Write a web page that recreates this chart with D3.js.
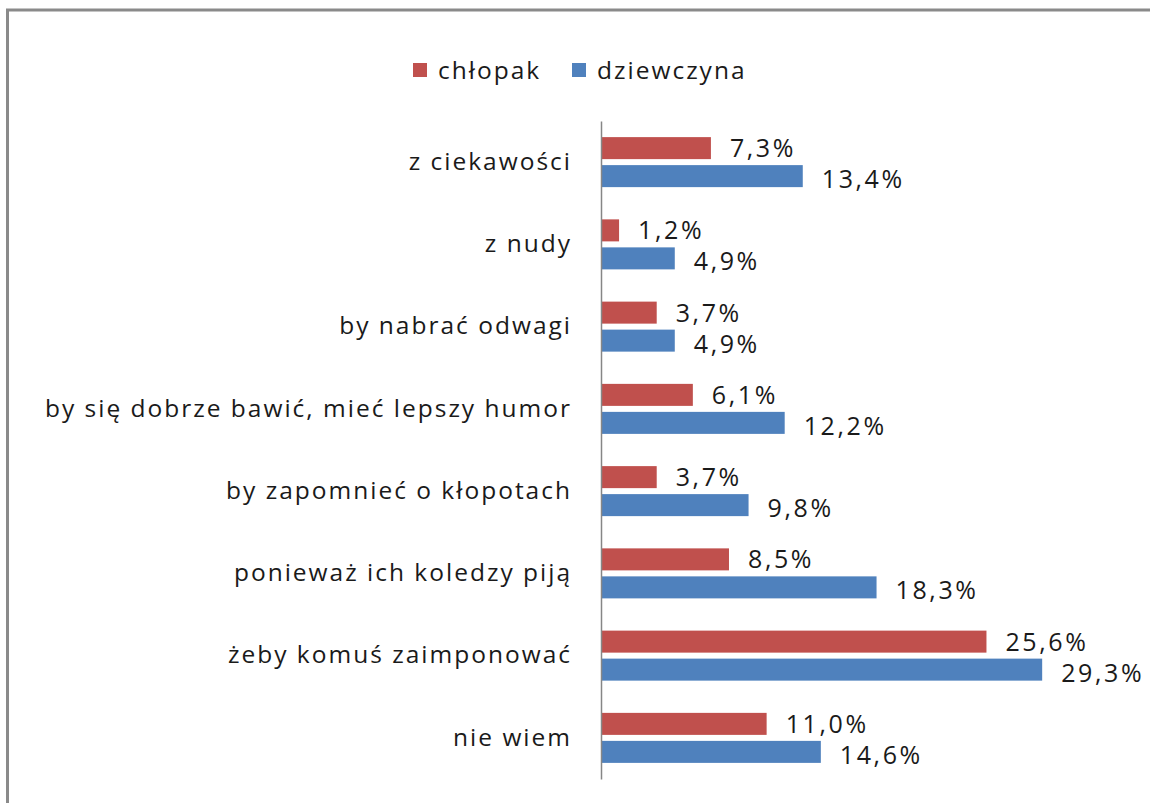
<!DOCTYPE html>
<html>
<head>
    <meta charset="utf-8">
    <script src="https://d3js.org/d3.v7.min.js"></script>
    <style>
      body { margin: 0; background: #fff; }
      text { font-family: "Open Sans", Lato, sans-serif; fill: #1a1a1a; letter-spacing: 2px; }
      text.val { letter-spacing: 2.6px; }
    </style>
</head>
<body>
    <script type="text/javascript">
    "use strict";

    // Data.
    var categories = ["z ciekawości", "z nudy", "by nabrać odwagi",
      "by się dobrze bawić, mieć lepszy humor", "by zapomnieć o kłopotach",
      "ponieważ ich koledzy piją", "żeby komuś zaimponować", "nie wiem"];
    var seriesNames = ["chłopak", "dziewczyna"];
    var chlopak = [7.3, 1.2, 3.7, 6.1, 3.7, 8.5, 25.6, 11.0];
    var dziewczyna = [13.4, 4.9, 4.9, 12.2, 9.8, 18.3, 29.3, 14.6];
    var colors = ["#C0504D", "#4F81BD"];

    var width = 1150, height = 803;

    var svg = d3.select("body").append("svg")
        .attr("width", width)
        .attr("height", height);

    // Chart border (runs off the right and bottom edges)
    svg.append("rect")
        .attr("x", 7.5).attr("y", 10)
        .attr("width", 1200).attr("height", 900)
        .attr("fill", "none")
        .attr("stroke", "#8a8a8a")
        .attr("stroke-width", 3);

    var rows = categories.map(function(c, i) {
      return { cat: c, values: [chlopak[i], dziewczyna[i]] };
    });

    var x = d3.scaleLinear().domain([0, 35]).range([601, 1128]);
    var y0 = d3.scaleBand().domain(categories).range([121, 779])
        .paddingInner(0.392).paddingOuter(0.196);
    var y1 = d3.scaleBand().domain(seriesNames).range([0, y0.bandwidth()])
        .paddingInner(0.214);

    var fmt = function(v) { return d3.format(".1f")(v).replace(".", ",") + "%"; };

    var groups = svg.append("g").selectAll("g")
        .data(rows).enter().append("g")
        .attr("transform", function(d) { return "translate(0," + y0(d.cat) + ")"; });

    groups.selectAll("rect")
        .data(function(d) { return d.values.map(function(v, k) { return { k: k, v: v }; }); })
        .enter().append("rect")
        .attr("x", x(0))
        .attr("y", function(d) { return y1(seriesNames[d.k]); })
        .attr("height", y1.bandwidth())
        .attr("width", function(d) { return x(d.v) - x(0); })
        .attr("fill", function(d) { return colors[d.k]; });

    groups.selectAll("text.val")
        .data(function(d) { return d.values.map(function(v, k) { return { k: k, v: v }; }); })
        .enter().append("text")
        .attr("class", "val")
        .attr("x", function(d) { return x(d.v) + 19; })
        .attr("y", function(d) { return y1(seriesNames[d.k]) + y1.bandwidth() / 2 + (d.k === 0 ? 9 : 12); })
        .style("font-size", "25px")
        .text(function(d) { return fmt(d.v); });

    // Category axis
    var axis = svg.append("g")
        .attr("transform", "translate(" + x(0) + ",0)")
        .call(d3.axisLeft(y0).tickSize(0).tickSizeOuter(0).tickPadding(29));
    axis.select(".domain").attr("stroke", "#868686").attr("stroke-width", 1.5);
    axis.selectAll("text")
        .style("font-size", "24.5px")
        .style("font-family", "'Open Sans', Lato, sans-serif")
        .attr("fill", "#1a1a1a");

    // Legend
    var legend = svg.append("g");
    var legendX = [413, 572];
    seriesNames.forEach(function(name, k) {
      legend.append("rect")
          .attr("x", legendX[k]).attr("y", 63)
          .attr("width", 14).attr("height", 14)
          .attr("fill", colors[k]);
      legend.append("text")
          .attr("x", legendX[k] + 25).attr("y", 79)
          .style("font-size", "24.5px")
          .text(name);
    });
    </script>
</body>
</html>
